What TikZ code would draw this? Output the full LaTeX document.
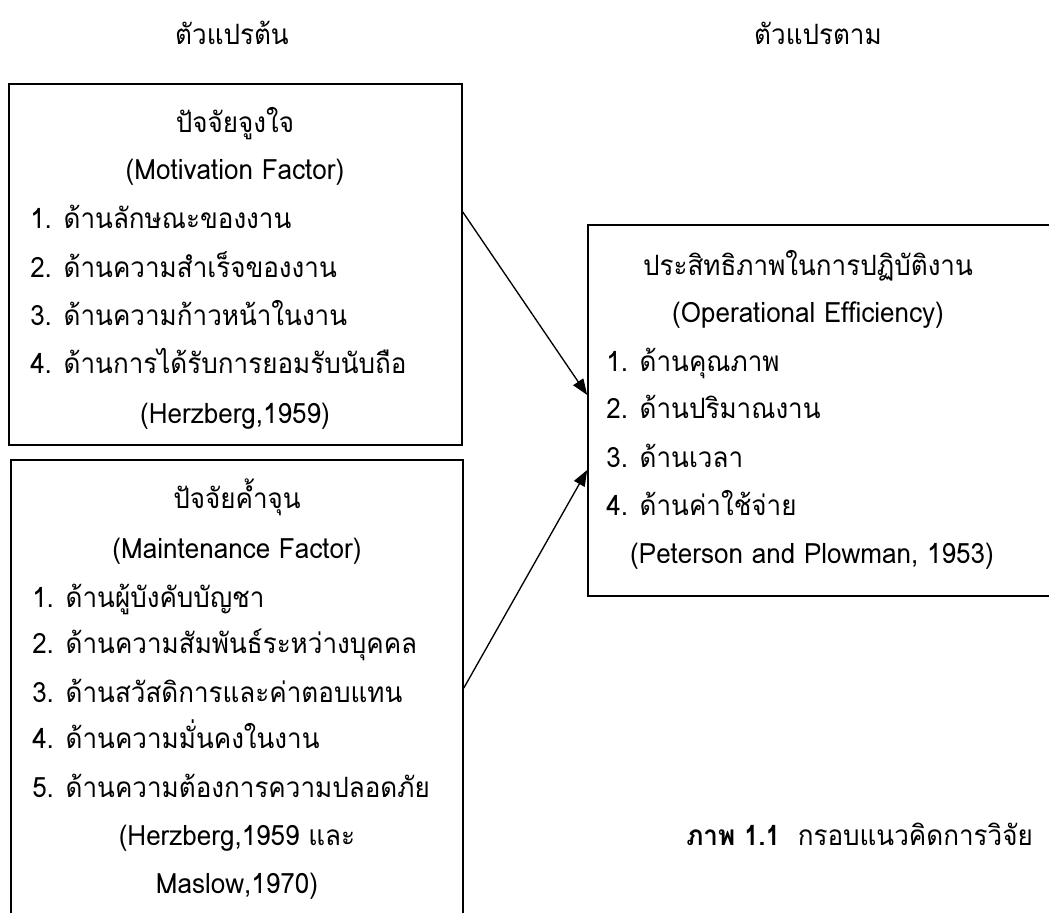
\documentclass[tikz,border=0pt]{standalone}
\usepackage{fontspec}
\setmainfont[Script=Thai,FakeStretch=0.93]{Loma}
\usepackage{tikz}
\usetikzlibrary{fit,calc,arrows.meta}
\tikzstyle{box}=[draw, line width=1.2pt, inner sep=0pt]
\tikzstyle{txt}=[anchor=base, inner sep=0pt]
\tikzstyle{item}=[anchor=base west, inner sep=0pt]
\tikzstyle{link}=[line width=1pt, -{Triangle[length=12pt,width=9pt]}]

\begin{document}
\begin{tikzpicture}[x=0.75pt,y=-0.75pt, every node/.style={font=\fontsize{21}{25}\selectfont}]
\clip (0,0) rectangle (1049,913);
\useasboundingbox (0,0) rectangle (1049,913);
% headings
\node[txt] (hin) at (232,45) {ตัวแปรต้น};
\node[txt] (hout) at (818,45) {ตัวแปรตาม};
% boxes
\node[box, fit={(9,84) (462,445)}] (motiv) {};
\node[box, fit={(11,460) (463,960)}] (maint) {};
\node[box, fit={(588,225) (1100,596)}] (eff) {};
% motivation factor
\node[txt] (m0) at (235,133) {ปัจจัยจูงใจ};
\node[txt] (m00) at (235,180) {(Motivation Factor)};
\node[item] (m1) at (30,228) {1. ด้านลักษณะของงาน};
\node[item] (m2) at (30,277) {2. ด้านความสำเร็จของงาน};
\node[item] (m3) at (30,325) {3. ด้านความก้าวหน้าในงาน};
\node[item] (m4) at (30,373) {4. ด้านการได้รับการยอมรับนับถือ};
\node[txt] (mref) at (235,423) {(Herzberg,1959)};
% maintenance factor
\node[txt] (k0) at (237,508) {ปัจจัยค้ำจุน};
\node[txt] (k00) at (237,558) {(Maintenance Factor)};
\node[item] (k1) at (32,607) {1. ด้านผู้บังคับบัญชา};
\node[item] (k2) at (32,653) {2. ด้านความสัมพันธ์ระหว่างบุคคล};
\node[item] (k3) at (32,702) {3. ด้านสวัสดิการและค่าตอบแทน};
\node[item] (k4) at (32,748) {4. ด้านความมั่นคงในงาน};
\node[item] (k5) at (32,797) {5. ด้านความต้องการความปลอดภัย};
\node[txt] (kref) at (237,845) {(Herzberg,1959 และ};
\node[txt] (kref2) at (237,893) {Maslow,1970)};
% operational efficiency
\node[txt] (e0) at (808,275) {ประสิทธิภาพในการปฏิบัติงาน};
\node[txt] (e00) at (808,322) {(Operational Efficiency)};
\node[item] (e1) at (606,371) {1. ด้านคุณภาพ};
\node[item] (e2) at (606,418) {2. ด้านปริมาณงาน};
\node[item] (e3) at (606,467) {3. ด้านเวลา};
\node[item] (e4) at (606,515) {4. ด้านค่าใช้จ่าย};
\node[txt] (eref) at (812,563) {(Peterson and Plowman, 1953)};
% links
\coordinate (a1) at (motiv.east |- 0,212);
\coordinate (b1) at (eff.west |- 0,395);
\coordinate (a2) at (maint.east |- 0,688);
\coordinate (b2) at (eff.west |- 0,470);
\draw[link] (a1) -- (b1);
\draw[link] (a2) -- (b2);
% caption
\node[anchor=base east, inner sep=0pt] (cap) at (1033,845) {\textbf{ภาพ 1.1}\ \ กรอบแนวคิดการวิจัย};
\end{tikzpicture}
\end{document}
